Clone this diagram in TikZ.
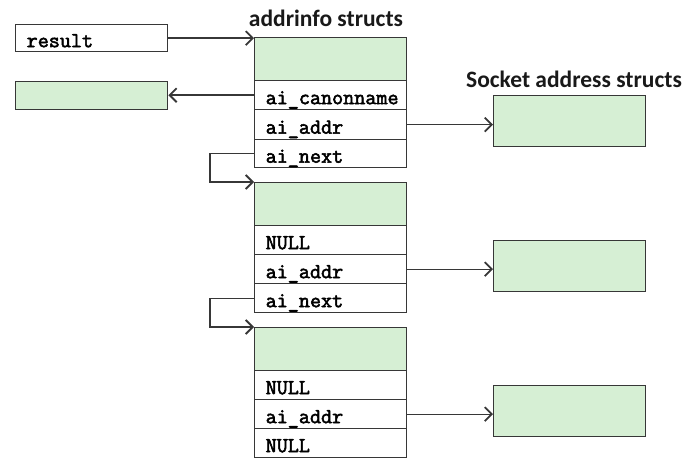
\documentclass[tikz,border=0pt]{standalone}
\usepackage{fontspec}
\newfontfamily\labelfont{Carlito}
\newfontfamily\codefont[FakeBold=2.5]{Latin Modern Mono}
\usetikzlibrary{arrows.meta}
\definecolor{boxgreen}{RGB}{214,239,212}
\definecolor{linegray}{RGB}{55,55,55}
\tikzset{
  cell/.style={draw=linegray, line width=1.4pt, anchor=north west, minimum width=152pt,
    text width=130pt, inner xsep=11pt, inner ysep=0pt, align=left,
    text height=18pt, text depth=0pt,
    font=\fontsize{21.5}{22}\selectfont\codefont},
  gcell/.style={cell, fill=boxgreen},
  title/.style={font=\fontsize{23.5}{25}\selectfont\labelfont\bfseries, text=black!90},
  link/.style={draw=linegray, line width=1.4pt, -{Straight Barb[length=7pt,width=14pt,line width=1.8pt]}}
}
\begin{document}
\begin{tikzpicture}[x=1pt,y=-1pt]
\useasboundingbox (0,0) rectangle (700,470);
% left boxes
\node[cell, minimum height=27pt] (result) at (15,24) {result};
\node[gcell, minimum height=28pt] (lbox) at (15,81) {};
% titles
\node[title] (t1) at (326,18) {addrinfo structs};
\node[title] (t2) at (574,79) {Socket address structs};
% struct 1
\node[gcell, minimum height=43pt] (g1) at (254,37) {};
\node[cell, minimum height=29pt] (r1a) at (254,80) {ai\_canonname};
\node[cell, minimum height=30pt] (r1b) at (254,109) {ai\_addr};
\node[cell, minimum height=28pt] (r1c) at (254,139) {ai\_next};
% struct 2
\node[gcell, minimum height=43pt] (g2) at (254,182) {};
\node[cell, minimum height=29pt] (r2a) at (254,225) {NULL};
\node[cell, minimum height=29pt] (r2b) at (254,254) {ai\_addr};
\node[cell, minimum height=29pt] (r2c) at (254,283) {ai\_next};
% struct 3
\node[gcell, minimum height=43pt] (g3) at (254,327) {};
\node[cell, minimum height=29pt] (r3a) at (254,370) {NULL};
\node[cell, minimum height=29pt] (r3b) at (254,399) {ai\_addr};
\node[cell, minimum height=29pt] (r3c) at (254,428) {NULL};
% socket address boxes
\node[gcell, minimum height=51pt] (s1) at (493,95) {};
\node[gcell, minimum height=51pt] (s2) at (493,240) {};
\node[gcell, minimum height=51pt] (s3) at (493,385) {};
% connectors
\draw[link] (result.east) -- (result.east -| g1.west);
\draw[link] (r1a.west) -- (r1a.west -| lbox.east);
\draw[link] (r1b.east) -- (r1b.east -| s1.west);
\draw[link] (r2b.east) -- (r2b.east -| s2.west);
\draw[link] (r3b.east) -- (r3b.east -| s3.west);
\draw[link] (r1c.west) -- ++(-44,0) |- (g2.north west);
\draw[link] (r2c.west) -- ++(-44,0) |- (g3.north west);
\end{tikzpicture}
\end{document}
